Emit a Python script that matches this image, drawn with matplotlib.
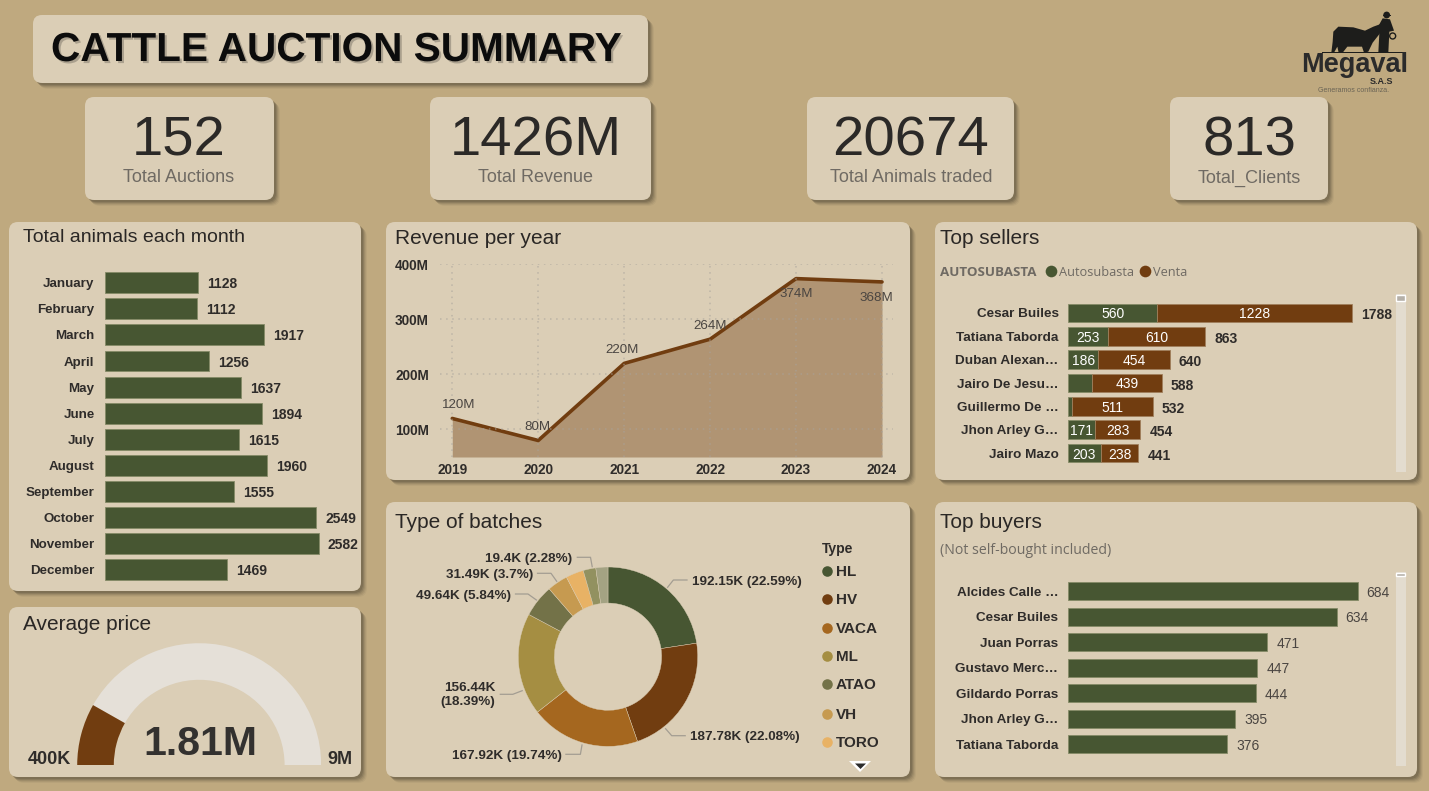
import matplotlib
matplotlib.use('Agg')
import numpy as np
import matplotlib.pyplot as plt
import matplotlib.patheffects as pe
from matplotlib.patches import FancyBboxPatch, Wedge, Polygon, Circle, Rectangle

# data
months = ['January', 'February', 'March', 'April', 'May', 'June', 'July',
          'August', 'September', 'October', 'November', 'December']
month_animals = [1128, 1112, 1917, 1256, 1637, 1894, 1615, 1960, 1555, 2549, 2582, 1469]

years = [2019, 2020, 2021, 2022, 2023, 2024]
revenue = [120, 80, 220, 264, 374, 368]
revenue_ticks = [100, 200, 300, 400]

sellers = ['Cesar Builes', 'Tatiana Taborda', 'Duban Alexan…', 'Jairo De Jesu…',
           'Guillermo De …', 'Jhon Arley G…', 'Jairo Mazo']
autosubasta = [560, 253, 186, 149, 21, 171, 203]
venta = [1228, 610, 454, 439, 511, 283, 238]

buyers = ['Alcides Calle …', 'Cesar Builes', 'Juan Porras', 'Gustavo Merc…',
          'Gildardo Porras', 'Jhon Arley G…', 'Tatiana Taborda']
bought = [684, 634, 471, 447, 444, 395, 376]

batch_types = ['HL', 'HV', 'VACA', 'ML', 'ATAO', 'VH', 'TORO']
# the last two slices are scrolled out of the legend
batch_values = [192.15, 187.78, 167.92, 156.44, 49.64, 31.49, 27.3, 19.4, 18.5]
batch_labels = ['192.15K (22.59%)', '187.78K (22.08%)', '167.92K (19.74%)',
                '156.44K\n(18.39%)', '49.64K (5.84%)', '31.49K (3.7%)', '19.4K (2.28%)']

kpi_values = ['152', '1426M', '20674', '813']
kpi_names = ['Total Auctions', 'Total Revenue', 'Total Animals traded', 'Total_Clients']

gauge_min, gauge_value, gauge_max = 0.4, 1.81, 9.0

# colours
BG = '#bfa97f'
CARD = '#dbceb6'
GREEN = '#475632'
BROWN = '#713d10'
DARK = '#2f2c2a'
GREY = '#6f6a63'
EDGE_G = '#858a66'
EDGE_B = '#a07f5c'
SLICES = ['#475632', '#713d10', '#a5671f', '#a58e42', '#737248', '#c69a50', '#e8b265',
          '#929160', '#a4a383']
UI_FONT = ['Open Sans', 'DejaVu Sans']

W, H = 1429, 791
plt.rcParams['font.family'] = ['Liberation Sans', 'DejaVu Sans']
fig = plt.figure(figsize=(W / 100, H / 100), dpi=100, facecolor=BG)


def px_axes(x0, y0, x1, y1, z=2):
    a = fig.add_axes([x0 / W, 1 - y1 / H, (x1 - x0) / W, (y1 - y0) / H], zorder=z)
    a.patch.set_visible(False)
    return a


back = px_axes(0, 0, W, H, 0)
back.set_xlim(0, W)
back.set_ylim(H, 0)
back.axis('off')
top = px_axes(0, 0, W, H, 5)
top.set_xlim(0, W)
top.set_ylim(H, 0)
top.axis('off')


def card(x0, y0, x1, y1, r=9):
    for off, alpha in [(6, .04), (5, .06), (4, .08), (3, .1), (2, .1)]:
        back.add_patch(FancyBboxPatch((x0 + r + off, y0 + r + off), x1 - x0 - 2 * r, y1 - y0 - 2 * r,
                                      boxstyle=f'round,pad={r},rounding_size={r}',
                                      fc='black', ec='none', alpha=alpha))
    back.add_patch(FancyBboxPatch((x0 + r, y0 + r), x1 - x0 - 2 * r, y1 - y0 - 2 * r,
                                  boxstyle=f'round,pad={r},rounding_size={r}',
                                  fc=CARD, ec='none'))


def panel_title(x, y, s, size=15):
    top.text(x, y, s, fontsize=size, color='#2a2725', va='center', ha='left')


def plain_axis(a):
    for s in a.spines.values():
        s.set_visible(False)
    a.tick_params(length=0)


# cards
card(33, 15, 648, 83)
for box in [(85, 97, 274, 200), (430, 97, 651, 200), (807, 97, 1014, 200), (1170, 97, 1328, 200)]:
    card(*box)
card(9, 222, 361, 591)
card(9, 607, 361, 777)
card(386, 222, 910, 480)
card(386, 502, 910, 777)
card(935, 222, 1417, 480)
card(935, 502, 1417, 777)

# header
title = top.text(51, 50, 'CATTLE AUCTION SUMMARY', fontsize=29.2, fontweight='bold',
                 color='#0c0c0c', va='center', ha='left')
title.set_path_effects([pe.SimplePatchShadow(offset=(1.5, -1.5), shadow_rgbFace='black', alpha=.22),
                        pe.Normal()])

kpi_x = [179, 536, 911, 1249]
for x, v, n in zip(kpi_x, kpi_values, kpi_names):
    top.text(x, 141, v, fontsize=40.5, color='#2b2927', ha='center', va='center')
    top.text(x, 178, n, fontsize=13, color=GREY, ha='center', va='center')

# logo, drawn roughly in zoomed crop coordinates
def lg(p):
    return [(1240 + a / 3, b / 3) for a, b in p]


bull = [(278, 125), (280, 95), (295, 80), (340, 82), (375, 92), (400, 80), (422, 72), (420, 100),
        (398, 128), (385, 155), (372, 158), (366, 140), (322, 140), (308, 158), (296, 158),
        (292, 140), (282, 158), (274, 158)]
man = [(428, 55), (450, 58), (462, 92), (448, 95), (445, 158), (415, 158), (418, 100), (413, 82)]
back.add_patch(Polygon(lg(bull), fc='#1d1d1b', ec='none'))
back.add_patch(Polygon(lg(man), fc='#1d1d1b', ec='none'))
back.add_patch(Circle((1240 + 440 / 3, 45 / 3), 3.4, fc='#1d1d1b', ec='none'))
back.add_patch(Rectangle((1240 + 428 / 3, 44 / 3), 8, 1.2, fc='#1d1d1b', ec='none'))
back.add_patch(Circle((1240 + 458 / 3, 108 / 3), 3, fc='none', ec='#1d1d1b', lw=1))
back.add_patch(Rectangle((1322, 52), 81, 1.2, fc='#1d1d1b', ec='none'))
top.text(1355, 65, 'Megaval', fontsize=19.5, fontweight='bold', color='#2b2b2b', ha='center', va='center')
top.text(1382, 81, 'S.A.S', fontsize=6.5, fontweight='bold', color='#2b2b2b', ha='center', va='center')
top.text(1354, 90, 'Generamos confianza.', fontsize=5, color='#6a6455', ha='center', va='center')

# total animals each month
panel_title(23, 237, 'Total animals each month', 14)
ax = px_axes(105, 269.6, 355, 583)
ax.barh(range(len(months)), month_animals, height=0.8, color=GREEN, edgecolor=EDGE_G, linewidth=.6)
ax.set_xlim(0, 250 / (214 / 2582))
ax.set_ylim(len(months) - .5, -.5)
ax.set_xticks([])
ax.set_yticks(range(len(months)), months, fontsize=9.6, fontweight='bold', color=DARK)
ax.tick_params(axis='y', pad=7.5)
plain_axis(ax)
for i, v in enumerate(month_animals):
    ax.annotate(str(v), (v, i), xytext=(9, -1.5), textcoords='offset pixels', fontsize=10,
                fontweight='bold', color=DARK, va='center', annotation_clip=False)

# gauge
panel_title(23, 624, 'Average price')
ax = px_axes(77.2, 643.2, 321.2, 765.2)
ax.set_xlim(-1, 1)
ax.set_ylim(0, 1)
ax.axis('off')
split = 180 - 180 * (gauge_value - gauge_min) / (gauge_max - gauge_min)
ax.add_patch(Wedge((0, 0), 1, 0, split, width=0.3, fc='#e5e0d8', ec='none'))
ax.add_patch(Wedge((0, 0), 1, split, 180, width=0.3, fc=BROWN, ec='none'))
top.text(200, 744, f'{gauge_value:.2f}M', fontsize=29.5, fontweight='bold', color='#33312f', ha='center', va='center')
top.text(71, 760, '400K', fontsize=13, fontweight='bold', color=DARK, ha='right', va='center')
top.text(327, 760, '9M', fontsize=13, fontweight='bold', color=DARK, ha='left', va='center')

# revenue per year
panel_title(395, 238, 'Revenue per year')
ax = px_axes(440, 264.3, 893, 457)
ax.fill_between(years, revenue, 50, color=BROWN, alpha=.4, linewidth=0)
ax.plot(years, revenue, color=BROWN, lw=2.6, solid_capstyle='round', clip_on=False)
ax.set_xlim(2018.857, 2024.128)
ax.set_ylim(50, 400)
ax.set_xticks(years, [str(y) for y in years], fontsize=9.8, fontweight='bold', color=DARK)
ax.set_yticks(revenue_ticks, [f'{t}M' for t in revenue_ticks], fontsize=9.8, fontweight='bold', color=DARK)
ax.tick_params(axis='x', pad=4)
ax.tick_params(axis='y', pad=8)
ax.grid(color='#a8a39c', linestyle=(0, (1, 3)), linewidth=1.1, alpha=.6)
ax.set_axisbelow(False)
plain_axis(ax)
label_offsets = [(6, 13), (-1, 13), (-2, 13), (0, 13), (0, -15), (-6, -16)]
for x, v, off in zip(years, revenue, label_offsets):
    ax.annotate(f'{v}M', (x, v), xytext=off, textcoords='offset pixels', fontsize=9.6,
                color='#4a4541', ha='center', va='center', annotation_clip=False, zorder=6)

# donut
panel_title(395, 523, 'Type of batches')
R = 89.7
cx, cy = 608, 656.7
ax = px_axes(cx - R, cy - R, cx + R, cy + R)
ax.pie(batch_values, colors=SLICES, startangle=90, counterclock=False, radius=1,
       wedgeprops=dict(width=1 - 53.6 / R, edgecolor=CARD, linewidth=.3))
ax.set_xlim(-1, 1)
ax.set_ylim(-1, 1)

leaders = [[(667.6, 587.3), (673.4, 580), (687, 580)],
           [(665.6, 728.7), (671.7, 735.7), (685.2, 735.7)],
           [(582, 745), (580.4, 754.3), (565.9, 754.3)],
           [(522.2, 690.7), (512.8, 694.3), (500.3, 694.3)],
           [(536.4, 600), (528, 594), (515.5, 594)],
           [(556.7, 581.3), (551, 573.3), (537.5, 573.3)],
           [(592.2, 566.7), (590.5, 557.3), (577.3, 557.3)]]
label_pos = [(692, 582, 'left'), (690, 737, 'left'), (562, 756, 'right'), (495.5, 695, 'right'),
             (511, 596, 'right'), (533, 575, 'right'), (572.6, 559, 'right')]
for pts, (x, y, ha), s in zip(leaders, label_pos, batch_labels):
    top.plot([p[0] for p in pts], [p[1] for p in pts], color='#a39d92', lw=.9)
    top.text(x, y, s, fontsize=9.7, fontweight='bold', color=DARK, ha=ha, va='center',
             multialignment='right', linespacing=1.15)

top.text(822, 549, 'Type', fontsize=10, fontweight='bold', color=DARK, va='center')
legend_y = [570.5, 599, 628, 656, 684, 714, 742]
for t, c, y in zip(batch_types, SLICES, legend_y):
    top.plot([827.5], [y], 'o', ms=7.6, color=c, mec='none')
    top.text(836, y + 1, t, fontsize=11, fontweight='bold', color=DARK, va='center')
top.add_patch(Polygon([(849, 761), (871, 761), (860, 772)], fc='white', ec='none'))
top.add_patch(Polygon([(855, 763.5), (866, 763.5), (860.5, 769)], fc='#2b2b2b', ec='none'))

# top sellers
panel_title(940, 238, 'Top sellers')
top.text(940, 272, 'AUTOSUBASTA', fontsize=9.6, fontweight='bold', color=GREY, va='center', family=UI_FONT)
top.plot([1050.7], [271], 'o', ms=8.4, color=GREEN, mec='none')
top.text(1059, 272, 'Autosubasta', fontsize=9.2, color=GREY, va='center', family=UI_FONT)
top.plot([1145], [271], 'o', ms=8.4, color=BROWN, mec='none')
top.text(1153, 272, 'Venta', fontsize=9.2, color=GREY, va='center', family=UI_FONT)

ax = px_axes(1068.3, 301.3, 1395, 464.7)
pos = np.arange(len(sellers))
ax.barh(pos, autosubasta, height=.79, color=GREEN, edgecolor=EDGE_G, linewidth=.6)
ax.barh(pos, venta, left=autosubasta, height=.79, color=BROWN, edgecolor=EDGE_B, linewidth=.6)
ax.set_xlim(0, (1395 - 1068.3) / (284 / 1788))
ax.set_ylim(len(sellers) - .5, -.5)
ax.set_xticks([])
ax.set_yticks(pos, sellers, fontsize=9.7, fontweight='bold', color=DARK)
ax.tick_params(axis='y', pad=7)
plain_axis(ax)
for i, (a, b) in enumerate(zip(autosubasta, venta)):
    if a > 160:  # smaller segments carry no label
        ax.annotate(str(a), (a / 2, i), xytext=(0, -1.5), textcoords='offset pixels', color='white',
                    fontsize=10, ha='center', va='center')
    ax.annotate(str(b), (a + b / 2, i), xytext=(0, -1.5), textcoords='offset pixels', color='white',
                fontsize=10, ha='center', va='center')
    ax.annotate(str(a + b), (a + b, i), xytext=(9, -2.5), textcoords='offset pixels', fontsize=10,
                fontweight='bold', color=DARK, va='center', annotation_clip=False)

top.add_patch(Rectangle((1396.3, 294), 9.4, 177.7, fc='#e3dccf', ec='none'))
top.add_patch(Rectangle((1396.5, 294.5), 9, 6.5, fc='#b5b0a8', ec='white', lw=1))

# top buyers
panel_title(940, 522, 'Top buyers')
top.text(940, 550, '(Not self-bought included)', fontsize=10.2, color=GREY, va='center', family=UI_FONT)
ax = px_axes(1068, 578.6, 1395, 757)
pos = np.arange(len(buyers))
ax.barh(pos, bought, height=.71, color=GREEN, edgecolor=EDGE_G, linewidth=.6)
ax.set_xlim(0, 327 / (289.7 / 684))
ax.set_ylim(len(buyers) - .5, -.5)
ax.set_xticks([])
ax.set_yticks(pos, buyers, fontsize=9.7, fontweight='bold', color=DARK)
ax.tick_params(axis='y', pad=7)
plain_axis(ax)
for i, v in enumerate(bought):
    ax.annotate(str(v), (v, i), xytext=(9, -1.5), textcoords='offset pixels', fontsize=10,
                color='#4a4541', va='center', annotation_clip=False)

top.add_patch(Rectangle((1396, 572), 9.6, 193.7, fc='#e3dccf', ec='none'))
top.add_patch(Rectangle((1396.3, 572.5), 9, 3.2, fc='#b5b0a8', ec='white', lw=1))

fig.savefig('out.png', dpi=100, facecolor=BG)
